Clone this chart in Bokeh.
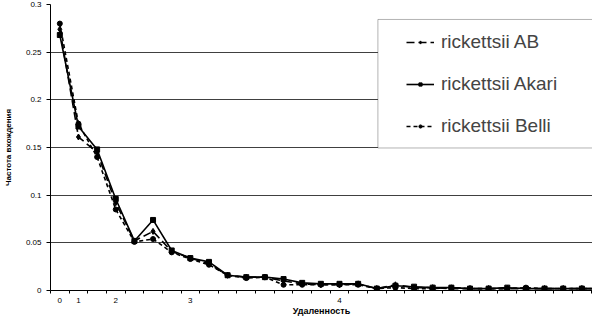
from bokeh.plotting import figure
from bokeh.models import FixedTicker, Legend, LegendItem, BoxAnnotation, Range1d
from bokeh.embed import file_html
from bokeh.resources import INLINE

# Data
ab = [0.274, 0.161, 0.145, 0.092, 0.052, 0.062, 0.041, 0.034, 0.028, 0.016,
      0.014, 0.014, 0.010, 0.007, 0.006, 0.006, 0.007, 0.002, 0.006, 0.003,
      0.003, 0.002, 0.002, 0.002, 0.002, 0.002, 0.002, 0.002, 0.002, 0.002]
akari = [0.268, 0.172, 0.148, 0.096, 0.052, 0.074, 0.042, 0.034, 0.030, 0.016,
         0.014, 0.014, 0.012, 0.008, 0.007, 0.007, 0.007, 0.002, 0.005, 0.004,
         0.003, 0.003, 0.002, 0.002, 0.003, 0.002, 0.002, 0.002, 0.002, 0.002]
belli = [0.280, 0.175, 0.140, 0.085, 0.051, 0.054, 0.040, 0.033, 0.027, 0.016,
         0.013, 0.014, 0.006, 0.006, 0.006, 0.006, 0.006, 0.002, 0.003, 0.002,
         0.002, 0.003, 0.002, 0.002, 0.002, 0.003, 0.002, 0.002, 0.002, 0.002]
cats = list(range(len(ab)))
x_tick_pos = [0, 1, 3, 7, 15]
x_tick_labels = ["0", "1", "2", "3", "4"]
y_ticks = [0, 0.05, 0.1, 0.15, 0.2, 0.25, 0.3]
y_tick_labels = ["0", "0.05", "0.1", "0.15", "0.2", "0.25", "0.3"]
names = ["rickettsii AB", "rickettsii Akari", "rickettsii Belli"]

FONT = "Liberation Sans"

p = figure(width=592, height=318, x_range=Range1d(-0.5, 28.57), y_range=Range1d(0, 0.3),
           output_backend="svg", toolbar_location=None,
           min_border_left=49, min_border_right=0, min_border_top=4, min_border_bottom=24)
p.outline_line_color = None
p.background_fill_color = "white"

# axes
p.xaxis.ticker = FixedTicker(ticks=x_tick_pos, minor_ticks=[i - 0.5 for i in range(len(cats) + 1)])
p.xaxis.major_label_overrides = {t: l for t, l in zip(x_tick_pos, x_tick_labels)}
p.xaxis.major_tick_line_color = None
p.xaxis.major_tick_in = 0
p.xaxis.major_tick_out = 0
p.xaxis.minor_tick_line_color = "black"
p.xaxis.minor_tick_in = 0
p.xaxis.minor_tick_out = 3
p.xaxis.axis_line_color = "black"
p.xaxis.major_label_standoff = 4
p.xaxis.axis_label = "Удаленность"
p.xaxis.axis_label_standoff = 0

p.yaxis.ticker = FixedTicker(ticks=y_ticks)
p.yaxis.major_label_overrides = {t: l for t, l in zip(y_ticks, y_tick_labels)}
p.yaxis.minor_tick_line_color = None
p.yaxis.major_tick_in = 0
p.yaxis.major_tick_out = 4
p.yaxis.major_tick_line_color = "black"
p.yaxis.axis_line_color = "black"
p.yaxis.major_label_standoff = 5
p.yaxis.axis_label = "Частота вхождения"
p.yaxis.axis_label_standoff = 10

for ax in (p.xaxis, p.yaxis):
    ax.major_label_text_font = FONT
    ax.major_label_text_font_size = "8px"
    ax.major_label_text_color = "black"
    ax.axis_label_text_font = FONT
    ax.axis_label_text_font_style = "bold"
    ax.axis_label_text_color = "black"
p.xaxis.axis_label_text_font_size = "9px"
p.yaxis.axis_label_text_font_size = "8px"

p.xgrid.visible = False
p.ygrid.ticker = FixedTicker(ticks=y_ticks)
p.ygrid.grid_line_color = "#404040"
p.ygrid.grid_line_width = 1

# series
l1 = p.line(cats, ab, line_color="black", line_width=1.6, line_dash="8 4")
s1 = p.scatter(cats, ab, marker="diamond", size=6, color="black")
l2 = p.line(cats, akari, line_color="black", line_width=1.6)
s2 = p.scatter(cats, akari, marker="square", size=5, color="black")
l3 = p.line(cats, belli, line_color="black", line_width=1.6, line_dash="4 3")
s3 = p.scatter(cats, belli, marker="circle", size=5, color="black")

box = BoxAnnotation(left=17.06, right=30, top=0.2843, bottom=0.1495,
                    fill_color="white", fill_alpha=1, line_color="black", line_width=1)
p.add_layout(box)

legend = Legend(items=[LegendItem(label=names[0], renderers=[l1, s1]),
                       LegendItem(label=names[1], renderers=[l2, s2]),
                       LegendItem(label=names[2], renderers=[l3, s3])],
                location=(356, 153), padding=0, margin=0, spacing=20,
                label_height=20, glyph_height=8, glyph_width=28, label_standoff=7,
                label_text_font=FONT, label_text_font_size="19px",
                border_line_alpha=0, background_fill_alpha=0)
p.add_layout(legend)

open("out.html", "w").write(file_html(p, INLINE))
